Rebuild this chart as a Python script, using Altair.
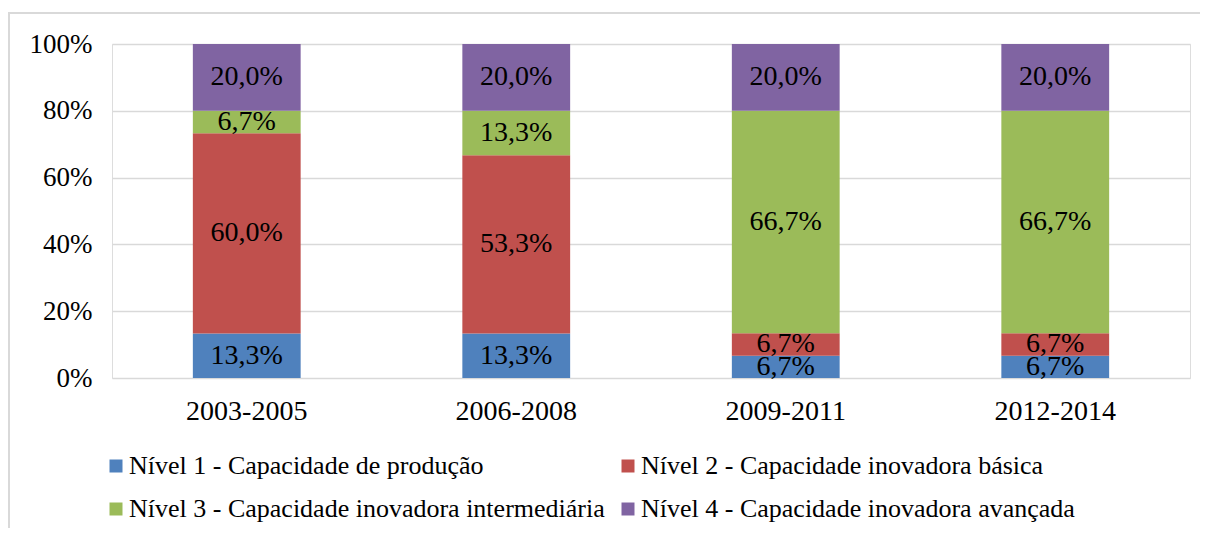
import altair as alt
import pandas as pd

periods = ["2003-2005", "2006-2008", "2009-2011", "2012-2014"]
levels = [
    "Nível 1 - Capacidade de produção",
    "Nível 2 - Capacidade inovadora básica",
    "Nível 3 - Capacidade inovadora intermediária",
    "Nível 4 - Capacidade inovadora avançada",
]
nivel1 = [13.3, 13.3, 6.7, 6.7]
nivel2 = [60.0, 53.3, 6.7, 6.7]
nivel3 = [6.7, 13.3, 66.7, 66.7]
nivel4 = [20.0, 20.0, 20.0, 20.0]
colors = ["#4F81BD", "#C0504D", "#9BBB59", "#8064A2"]

rows = []
for i, p in enumerate(periods):
    for j, vals in enumerate([nivel1, nivel2, nivel3, nivel4]):
        rows.append({"period": p, "level": levels[j], "order": j, "value": vals[i]})
df = pd.DataFrame(rows)

FONT = "Liberation Serif"
W, H = 1078, 334

base = alt.Chart(df).transform_stack(
    stack="value", groupby=["period"], as_=["s0", "s1"], sort=[alt.SortField("order")]
).transform_joinaggregate(
    total="sum(value)", groupby=["period"]
).transform_calculate(
    y0="datum.s0 / datum.total",
    y1="datum.s1 / datum.total",
    mid="(datum.s0 + datum.s1) / 2 / datum.total",
    label="replace(format(datum.value, '.1f'), '.', ',') + '%'",
)

x = alt.X("period:N", sort=periods, title=None,
          scale=alt.Scale(paddingInner=0.6, paddingOuter=0.3),
          axis=alt.Axis(labelAngle=0, ticks=False, domain=False, labelFont=FONT,
                        labelFontSize=28, labelColor="#000", labelPadding=19))

bars = base.mark_bar().encode(
    x=x,
    y=alt.Y("y1:Q", title=None, scale=alt.Scale(domain=[0, 1]),
            axis=alt.Axis(values=[0, 0.2, 0.4, 0.6, 0.8, 1.0], format=".0%",
                          domain=False, ticks=False, labelFont=FONT, labelFontSize=27,
                          labelColor="#000", labelPadding=20, gridColor="#d9d9d9",
                          gridWidth=1.5)),
    y2="y0:Q",
    color=alt.Color("level:N", sort=levels, title=None,
                    scale=alt.Scale(domain=levels, range=colors),
                    legend=alt.Legend(orient="none", legendX=-9, legendY=409, columns=2,
                                      direction="horizontal",
                                      symbolType="square", symbolSize=169,
                                      symbolStrokeWidth=0, labelFont=FONT,
                                      labelFontSize=26, labelColor="#000",
                                      labelOffset=0, columnPadding=10, rowPadding=17,
                                      labelLimit=700)),
    order="order:Q",
)

text = base.mark_text(font=FONT, fontSize=28, color="#000", baseline="middle").encode(
    x=alt.X("period:N", sort=periods),
    y="mid:Q",
    text="label:N",
)

frame = alt.Chart(pd.DataFrame({"a": [0]})).mark_rect(
    fill=None, stroke="#d9d9d9", strokeWidth=2
).encode(x=alt.value(-103), x2=alt.value(1210), y=alt.value(-31), y2=alt.value(600))

chart = alt.layer(frame, bars, text).properties(
    width=W, height=H,
    padding={"left": 104, "top": 36, "right": 10, "bottom": 150},
    autosize=alt.AutoSizeParams(type="none"),
).configure_view(stroke=None).configure(background="#ffffff")

chart.save("out.html", embed_options={"renderer": "svg", "actions": False})
